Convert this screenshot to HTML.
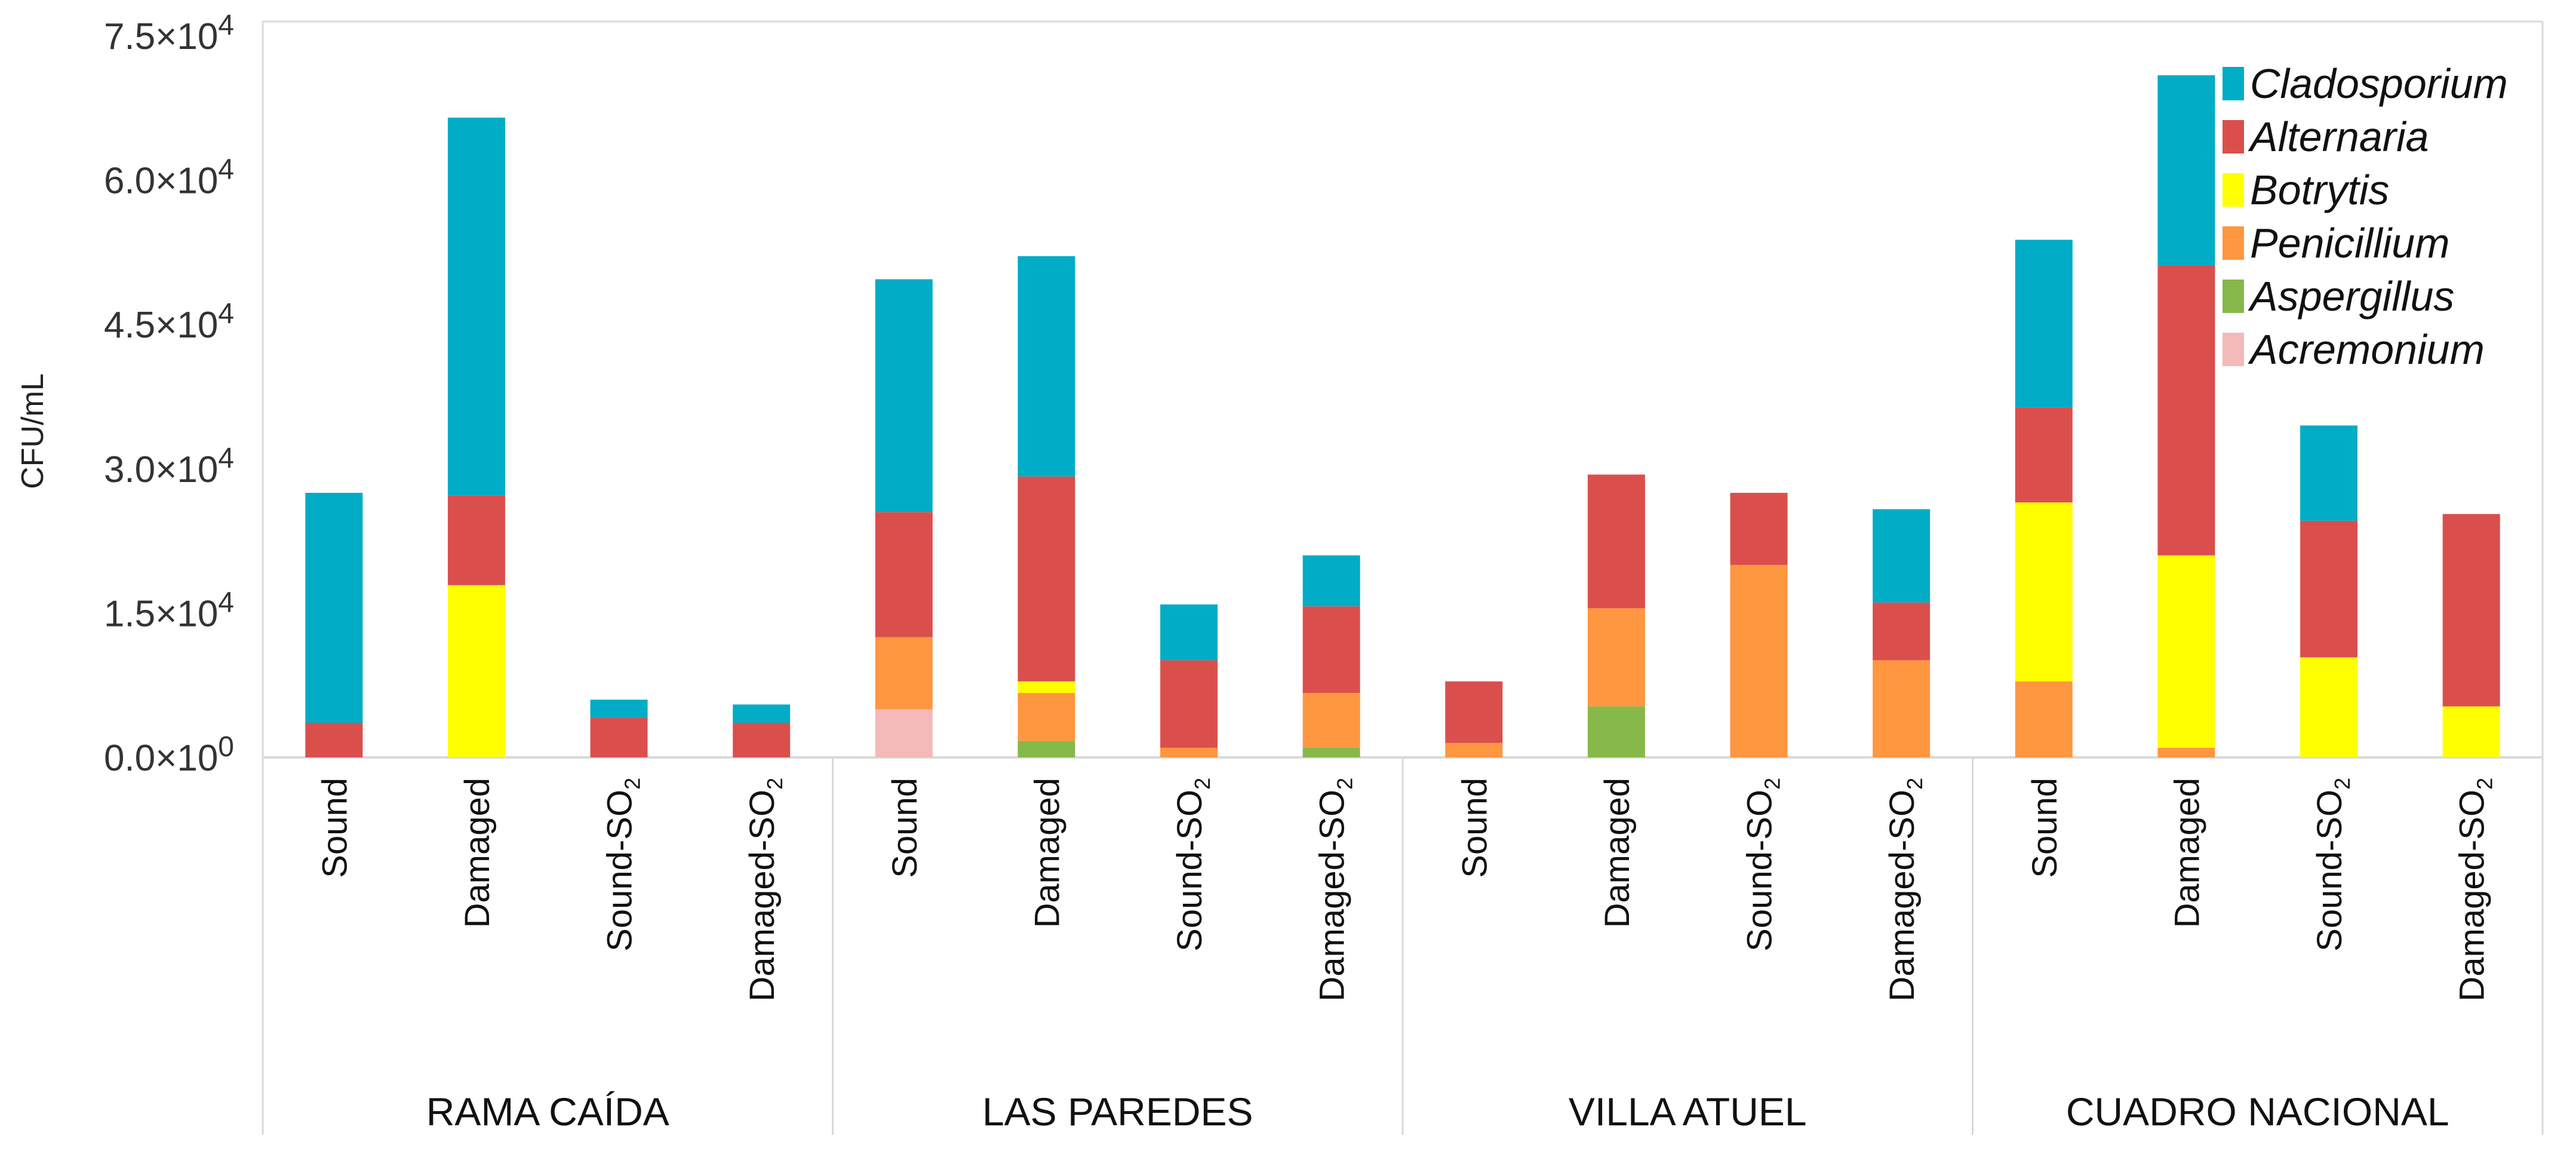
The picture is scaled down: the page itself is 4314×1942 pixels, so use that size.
<!DOCTYPE html>
<html><head><meta charset="utf-8"><style>
html,body{margin:0;padding:0;background:#fff;}
svg{display:block;font-family:"Liberation Sans",Arial,sans-serif;}
</style></head><body>
<svg id="chart" width="4314" height="1942" viewBox="0 0 4314 1942" xmlns="http://www.w3.org/2000/svg">
<rect width="4314" height="1942" fill="#fff"/>
<g id="frame"></g>
<g id="bars"></g>
<g id="labels"></g>
<g id="legend"></g>
</svg>
<script>
const groups = ["RAMA CAÍDA","LAS PAREDES","VILLA ATUEL","CUADRO NACIONAL"];
const treatments = ["Sound","Damaged","Sound-SO2","Damaged-SO2"];
const species = ["Acremonium","Aspergillus","Penicillium","Botrytis","Alternaria","Cladosporium"];
const colors = ["#F4B9B9","#86B84A","#FF9640","#FFFF00","#DA4F4C","#00ACC6"];
const legendOrder = ["Cladosporium","Alternaria","Botrytis","Penicillium","Aspergillus","Acremonium"];
const acremonium = [0,0,0,0, 5000,0,0,0, 0,0,0,0, 0,0,0,0];
const aspergillus = [0,0,0,0, 0,1700,0,1000, 0,5300,0,0, 0,0,0,0];
const penicillium = [0,0,0,0, 7500,5000,1000,5700, 1500,10200,20000,10100, 7900,1000,0,0];
const botrytis = [0,17900,0,0, 0,1200,0,0, 0,0,0,0, 18600,20000,10400,5300];
const alternaria = [3600,9300,4100,3600, 13000,21300,9100,9000, 6400,13900,7500,6000, 9900,30100,14200,20000];
const cladosporium = [23900,39300,1900,1900, 24200,22900,5800,5300, 0,0,0,9700, 17400,19800,9900,0];
const series = [acremonium,aspergillus,penicillium,botrytis,alternaria,cladosporium];
const yTicks = [0,15000,30000,45000,60000,75000];
const yTickLabels = ["0.0","1.5","3.0","4.5","6.0","7.5"];
const yTickExp = ["0","4","4","4","4","4"];

const NS="http://www.w3.org/2000/svg";
const X0=440, X1=4258, Y0=1268, YTOP=60, YMAX=75000;
const groupW=(X1-X0)/4, slotW=groupW/4, barW=96;
function y(v){return Y0-(v/YMAX)*(Y0-YTOP);}
function xc(i){return X0+slotW*(i+0.5);}
function mk(tag,attrs,parent){const e=document.createElementNS(NS,tag);for(const k in attrs)e.setAttribute(k,attrs[k]);parent.appendChild(e);return e;}
const frame=document.getElementById('frame'),bars=document.getElementById('bars'),labels=document.getElementById('labels'),legend=document.getElementById('legend');
let ln=mk('line',{x1:X0,y1:36,x2:X1,y2:36,stroke:'#d9d9d9','stroke-width':3},frame);

ln=mk('line',{x1:X1,y1:36,x2:X1,y2:Y0,stroke:'#d9d9d9','stroke-width':3},frame);

ln=mk('line',{x1:X0,y1:36,x2:X0,y2:1900,stroke:'#d9d9d9','stroke-width':3},frame);

ln=mk('line',{x1:X0,y1:Y0,x2:X1,y2:Y0,stroke:'#d9d9d9','stroke-width':4},frame);

for(let g=1;g<=4;g++){
  ln=mk('line',{x1:X0+groupW*g,y1:Y0,x2:X0+groupW*g,y2:1900,stroke:'#d9d9d9','stroke-width':3},frame);
  
}
yTicks.forEach((v,i)=>{
  const t=mk('text',{x:392,y:y(v)+22,'text-anchor':'end','font-size':62,fill:'#333'},labels);
  
  t.textContent=yTickLabels[i]+"×10";
  const s=mk('tspan',{dy:-24,'font-size':48},t);s.textContent=yTickExp[i];
});
const yt=mk('text',{x:0,y:0,'text-anchor':'middle','font-size':52,fill:'#222',transform:'translate(72,722) rotate(-90)'},labels);

yt.textContent="CFU/mL";
for(let i=0;i<16;i++){
  let acc=0;
  series.forEach((s,k)=>{
    const v=s[i]; if(v<=0)return;
    const r=mk('rect',{x:xc(i)-barW/2,y:y(acc+v),width:barW,height:y(acc)-y(acc+v),fill:colors[k]},bars);
    
    
    acc+=v;
  });
  const tr=treatments[i%4];
  const t=mk('text',{x:0,y:0,'text-anchor':'end','font-size':58,fill:'#111',transform:`translate(${xc(i)+21},1302) rotate(-90)`},labels);
  
  if(tr.endsWith('SO2')){
    t.textContent=tr.slice(0,-1);
    const s=mk('tspan',{'font-size':36,dy:14},t);s.textContent="2";
  } else t.textContent=tr;
}
groups.forEach((g,i)=>{
  const t=mk('text',{x:X0+groupW*(i+0.5),y:1884,'text-anchor':'middle','font-size':66,fill:'#111'},labels);
  
  t.textContent=g;
});
legendOrder.forEach((n,i)=>{
  const k=species.indexOf(n);
  const yy=140+i*89;
  const r=mk('rect',{x:3722,y:yy-28,width:36,height:56,fill:colors[k]},legend);
  
  const t=mk('text',{x:3768,y:yy+24,'font-size':70,'font-style':'italic',fill:'#111'},legend);
  
  t.textContent=n;
});
</script>
</body></html>
